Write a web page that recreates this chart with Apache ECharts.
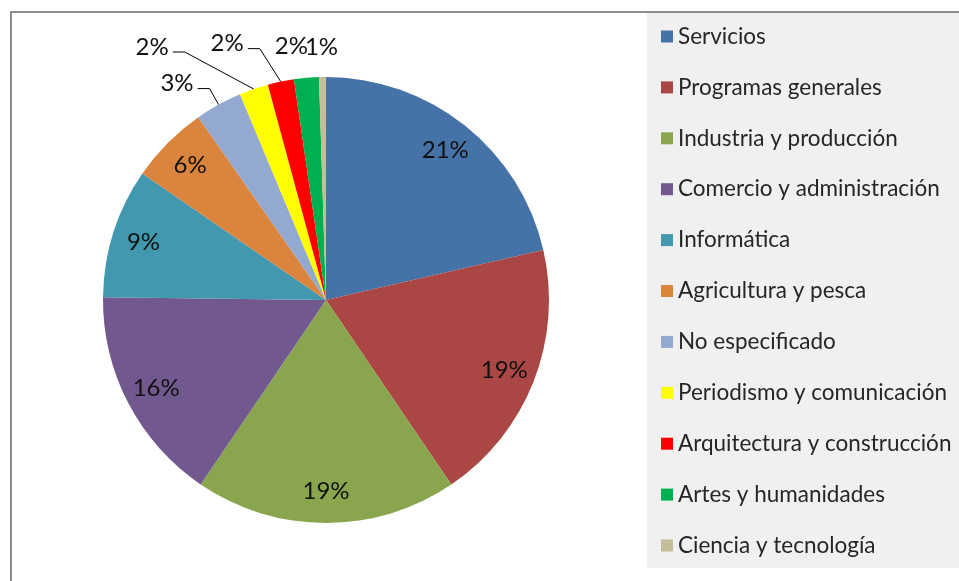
<!DOCTYPE html>
<html>
<head>
<meta charset="utf-8">
<script src="https://cdn.jsdelivr.net/npm/echarts@6/dist/echarts.min.js"></script>
<style>
  html, body { margin: 0; padding: 0; background: #fff; }
  #main { width: 959px; height: 581px; }
</style>
</head>
<body>
<div id="main"></div>
<script>
// categories and shares (%)
var categories = [
  "Servicios",
  "Programas generales",
  "Industria y producción",
  "Comercio y administración",
  "Informática",
  "Agricultura y pesca",
  "No especificado",
  "Periodismo y comunicación",
  "Arquitectura y construcción",
  "Artes y humanidades",
  "Ciencia y tecnología"
];
var shares = [21.4, 19.1, 19.0, 15.7, 9.4, 5.7, 3.4, 2.1, 1.9, 1.8, 0.5];
var colors = [
  "#4572A7", "#AA4643", "#89A54E", "#71588F", "#4198AF", "#DB843D",
  "#93A9CF", "#FFFF00", "#FF0000", "#00B050", "#C4BD97"
];

var fontFamily = "Lato, 'Open Sans', sans-serif";
var bigLimit = 5; // slices above this get the label inside

// where the outside labels sit, relative to the slice edge (Excel-like stacking)
var outsideLabelPos = {
  6: { elbow: [-9, -16], line: true },
  7: { elbow: [-69, -37], line: true },
  8: { elbow: [-21, -33], line: true },
  9: { elbow: [-15, -32], line: false },
  10: { elbow: [-1, -30], line: false }
};

var chartDom = document.getElementById("main");
var myChart = echarts.init(chartDom);

var pieData = categories.map(function (name, i) {
  var small = shares[i] < bigLimit;
  var pos = outsideLabelPos[i];
  return {
    name: name,
    value: shares[i],
    label: { show: small },
    labelLine: {
      show: small,
      lineStyle: { opacity: pos && !pos.line ? 0 : 1 }
    }
  };
});
var ringData = categories.map(function (name, i) {
  return {
    name: name,
    value: shares[i],
    label: { show: shares[i] >= bigLimit }
  };
});

function pct(p) {
  return Math.round(p.percent) + "%";
}

var option = {
  animation: false,
  color: colors,
  graphic: [
    {
      type: "rect",
      z: -10,
      shape: { x: 647, y: 13, width: 320, height: 555 },
      style: { fill: "#f0f0f0" }
    },
    {
      type: "rect",
      z: -5,
      shape: { x: 11, y: 12, width: 1000, height: 1000 },
      style: { fill: "none", stroke: "#8c8c8c", lineWidth: 2 }
    }
  ],
  legend: {
    orient: "vertical",
    left: 656,
    top: 20,
    itemWidth: 12,
    itemHeight: 12,
    itemGap: 27.9,
    icon: "rect",
    data: categories,
    textStyle: {
      fontFamily: fontFamily,
      fontSize: 22.5,
      lineHeight: 22,
      color: "#262626"
    }
  },
  series: [
    {
      type: "pie",
      center: [326, 300],
      radius: [0, 223],
      startAngle: 90,
      clockwise: true,
      avoidLabelOverlap: false,
      data: pieData,
      label: {
        position: "outside",
        formatter: pct,
        fontFamily: fontFamily,
        fontSize: 24,
        color: "#111"
      },
      labelLine: {
        length: 18,
        length2: 12,
        lineStyle: { color: "#000", width: 1 }
      },
      labelLayout: function (params) {
        var pos = outsideLabelPos[params.dataIndex];
        if (!pos || !params.labelLinePoints) return {};
        var p0 = params.labelLinePoints[0];
        var elbow = [p0[0] + pos.elbow[0], p0[1] + pos.elbow[1]];
        if (!pos.line) {
          return {
            x: elbow[0],
            y: elbow[1],
            align: "center",
            verticalAlign: "middle",
            labelLinePoints: [p0, p0, p0]
          };
        }
        var end = [elbow[0] - 12, elbow[1]];
        return {
          x: end[0] - 4,
          y: end[1] - 5,
          align: "right",
          verticalAlign: "middle",
          labelLinePoints: [p0, elbow, end]
        };
      },
      itemStyle: { borderWidth: 0 },
      emphasis: { disabled: true }
    },
    {
      type: "pie",
      center: [326, 300],
      radius: [154, 223],
      startAngle: 90,
      clockwise: true,
      silent: true,
      data: ringData,
      label: {
        position: "inside",
        formatter: pct,
        fontFamily: fontFamily,
        fontSize: 24,
        color: "#111"
      },
      labelLine: { show: false },
      itemStyle: { color: "rgba(0,0,0,0)", borderWidth: 0 },
      emphasis: { disabled: true }
    }
  ]
};
myChart.setOption(option);
</script>
</body>
</html>
